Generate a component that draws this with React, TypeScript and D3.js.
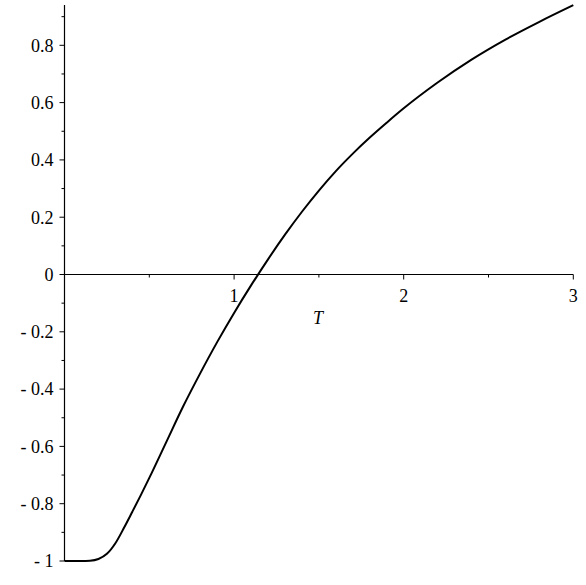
import React from 'react'
import * as d3 from 'd3';

// curve values
const tValues = [0, 0.05, 0.1, 0.15, 0.2, 0.25, 0.3, 0.35, 0.4, 0.45, 0.5, 0.6, 0.7, 0.8, 0.9, 1.0, 1.1, 1.2, 1.3, 1.4, 1.5, 1.6, 1.7, 1.8, 1.9, 2.0, 2.2, 2.4, 2.6, 2.8, 3.0];
const yValues = [-1, -1, -1, -0.999, -0.993, -0.975, -0.938, -0.885, -0.828, -0.77, -0.71, -0.585, -0.46, -0.345, -0.236, -0.134, -0.038, 0.053, 0.139, 0.219, 0.293, 0.361, 0.422, 0.478, 0.53, 0.58, 0.67, 0.75, 0.82, 0.882, 0.94];

const xTicks = [1, 2, 3];
const xMinor = [0.5, 1.5, 2.5];
const yTicks = [-1, -0.8, -0.6, -0.4, -0.2, 0, 0.2, 0.4, 0.6, 0.8];
const yMinor = [-0.9, -0.7, -0.5, -0.3, -0.1, 0.1, 0.3, 0.5, 0.7, 0.9];

export default function App() {
    const width = 586;
    const height = 585;

    const x = d3.scaleLinear().domain([0, 3]).range([64.5, 573.3]);
    const y = d3.scaleLinear().domain([-1, 0.9407]).range([561, 5]);

    const points: [number, number][] = tValues.map((t, i) => [t, yValues[i]]);
    const line = d3.line<[number, number]>()
        .x(d => x(d[0]))
        .y(d => y(d[1]))
        .curve(d3.curveMonotoneX);

    const font = "Times New Roman, Liberation Serif, Tinos, DejaVu Serif, serif";

    // tick label like Maple: "- 0.8"
    const fmt = (v: number) => {
        const s = Math.abs(v) < 1e-9 ? "0" : String(Math.abs(v));
        return v < -1e-9 ? "- " + s : s;
    };

    return (
        <svg width={width} height={height}
            style={{ position: "absolute", left: 0, top: 0, display: "block", background: "white" }}>
            {/* axes */}
            <line x1={x(0)} x2={x(0)} y1={y(-1)} y2={y(0.9407)} stroke="black" strokeWidth={1.2} />
            <line x1={x(0)} x2={x(3)} y1={y(0)} y2={y(0)} stroke="black" strokeWidth={1.2} />

            {/* y ticks */}
            {yTicks.map(v => (
                <g key={"y" + v}>
                    <line x1={x(0) - 5} x2={x(0)} y1={y(v)} y2={y(v)} stroke="black" strokeWidth={1} />
                    <text x={x(0) - 11} y={y(v)} dy="0.35em" textAnchor="end"
                        fontFamily={font} fontSize={18} xmlSpace="preserve">{fmt(v)}</text>
                </g>
            ))}
            {yMinor.map(v => (
                <line key={"ym" + v} x1={x(0) - 3} x2={x(0)} y1={y(v)} y2={y(v)} stroke="black" strokeWidth={1} />
            ))}

            {/* x ticks */}
            {xTicks.map(v => (
                <g key={"x" + v}>
                    <line x1={x(v)} x2={x(v)} y1={y(0)} y2={y(0) + 5} stroke="black" strokeWidth={1} />
                    <text x={x(v)} y={302} textAnchor="middle" fontFamily={font} fontSize={18}>{v}</text>
                </g>
            ))}
            {xMinor.map(v => (
                <line key={"xm" + v} x1={x(v)} x2={x(v)} y1={y(0)} y2={y(0) + 3} stroke="black" strokeWidth={1} />
            ))}
            <text x={318} y={324} textAnchor="middle" fontFamily={font} fontSize={18} fontStyle="italic">T</text>

            {/* curve */}
            <path d={line(points) || ""} fill="none" stroke="black" strokeWidth={2} />
        </svg>
    );
}
